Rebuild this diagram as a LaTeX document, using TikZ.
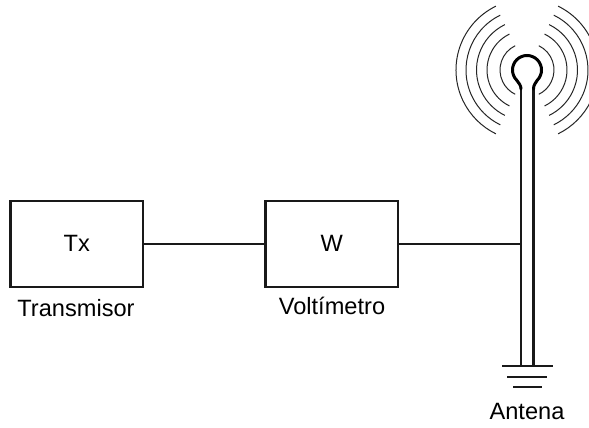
\documentclass[tikz,border=0pt]{standalone}
\usepackage{fontspec}
\setmainfont{Liberation Sans}
\tikzset{
  blockbox/.style={draw=black!90,line width=2.3pt,minimum width=132.5pt,minimum height=86pt,inner sep=0pt,font=\fontsize{23.6}{26}\selectfont},
  caption/.style={inner sep=0pt,font=\fontsize{23.6}{26}\selectfont,text=black},
  wire/.style={draw=black!90,line width=2.2pt},
  wave/.style={draw=black!85,line width=1pt},
  loopwire/.style={draw=black,line width=3pt}
}
\begin{document}
\begin{tikzpicture}[x=1pt,y=-1pt]
\useasboundingbox (0,0) rectangle (589,428);
\clip (0,0) rectangle (589,428);
\node[blockbox] (tx) at (76.75,243.75) {Tx\hspace{2pt}};
\node[blockbox] (w) at (331.75,243.75) {W};
\node[caption] (txl) at (76,308.5) {Transmisor};
\node[caption] (wl) at (332,306) {Voltímetro};
\node[caption] (al) at (527,411) {Antena};
\coordinate (ltop) at (521,89);
\coordinate (rtop) at (533.5,89);
\coordinate (lbot) at (521,366);
\coordinate (rbot) at (533.5,366);
\coordinate (tap) at (521,243.75);
\coordinate (g1a) at (502,366);
\coordinate (g1b) at (552.5,366);
\coordinate (g2a) at (507,377);
\coordinate (g2b) at (547,377);
\coordinate (g3a) at (513,387);
\coordinate (g3b) at (542,387);
\draw[wire] (tx.east) -- (w.west);
\draw[wire] (w.east) -- (tap);
\draw[wire] (ltop) -- (lbot);
\draw[wire] (rtop) -- (rbot);
\draw[wire] (g1a) -- (g1b);
\draw[wire] (g2a) -- (g2b);
\draw[wire] (g3a) -- (g3b);
\draw[loopwire,line cap=round] (ltop) .. controls (521,85) and (518.5,83) .. (516.75,80.25)
  arc[start angle=225,end angle=-45,radius=14.5pt]
  .. controls (535.5,83) and (533.5,85) .. (rtop);
\foreach \r in {27,40,50.5,61,71}{
  \draw[wave] (527,70) ++(116:\r pt) arc[start angle=116,end angle=244,radius=\r pt];
  \draw[wave] (527,70) ++(64:\r pt) arc[start angle=64,end angle=-64,radius=\r pt];
}
\end{tikzpicture}
\end{document}
